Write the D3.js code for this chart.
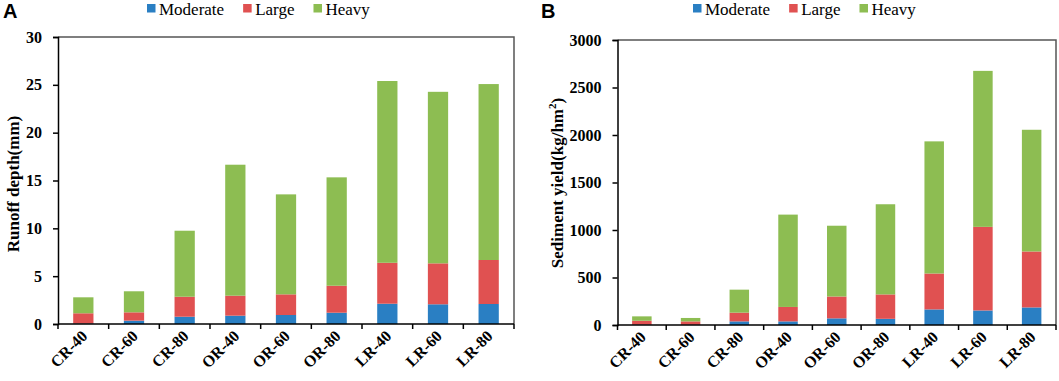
<!DOCTYPE html>
<html>
<head>
<meta charset="utf-8">
<script src="https://cdn.jsdelivr.net/npm/d3@7"></script>
<style>
  body { margin: 0; background: #fff; }
  svg { display: block; }
</style>
</head>
<body>
<div id="grafica"></div>
<script>
// --- DATOS ---
const categorias = ["CR-40", "CR-60", "CR-80", "OR-40", "OR-60", "OR-80", "LR-40", "LR-60", "LR-80"];
const series = ["Moderate", "Large", "Heavy"];

// Panel A: profundidad de escorrentía (mm), valor de cada segmento apilado
const runoffModerate = [0.05, 0.35, 0.76, 0.87, 0.94, 1.18, 2.12, 2.06, 2.09];
const runoffLarge    = [1.07, 0.87, 2.09, 2.09, 2.16, 2.82, 4.28, 4.28, 4.60];
const runoffHeavy    = [1.67, 2.20, 6.90, 13.69, 10.45, 11.33, 19.00, 17.93, 18.39];
const runoffTicks = [0, 5, 10, 15, 20, 25, 30];

// Panel B: producción de sedimentos (kg/hm2)
const sedimentModerate = [3, 2, 38, 38, 70, 65, 164, 153, 185];
const sedimentLarge    = [42, 36, 92, 152, 230, 257, 378, 880, 589];
const sedimentHeavy    = [46, 36, 242, 972, 745, 949, 1391, 1642, 1281];
const sedimentTicks = [0, 500, 1000, 1500, 2000, 2500, 3000];

const colores = ["#2a7fc3", "#e05151", "#8dbd52"];

const ancho = 1059, alto = 381;
const serif = "'Liberation Serif', 'Times New Roman', serif";

const svg = d3.select("#grafica").append("svg")
    .attr("width", ancho)
    .attr("height", alto);

// --- FUNCIÓN QUE DIBUJA UN PANEL ---
function dibujarPanel(cfg) {
    const g = svg.append("g");
    const { izq, der, arriba, abajo } = cfg.caja;

    const x = d3.scaleBand().domain(categorias).range([izq, der]).padding(0);
    const y = d3.scaleLinear().domain([0, cfg.maximo]).range([abajo, arriba]);

    // filas para d3.stack
    const filas = categorias.map((c, i) => ({
        cat: c,
        Moderate: cfg.valores[0][i],
        Large: cfg.valores[1][i],
        Heavy: cfg.valores[2][i]
    }));
    const apilado = d3.stack().keys(series)(filas);

    // marco superior y derecho
    g.append("path")
        .attr("d", `M${izq},${arriba}H${der}V${abajo}`)
        .attr("fill", "none")
        .attr("stroke", "#555")
        .attr("stroke-width", 1.5);

    // barras
    const anchoBarra = x.bandwidth() * 0.4;
    g.selectAll("g.serie")
        .data(apilado)
        .enter().append("g")
        .attr("fill", (d, i) => colores[i])
        .selectAll("rect")
        .data(d => d)
        .enter().append("rect")
        .attr("x", d => x(d.data.cat) + (x.bandwidth() - anchoBarra) / 2)
        .attr("width", anchoBarra)
        .attr("y", d => y(d[1]))
        .attr("height", d => Math.max(0, y(d[0]) - y(d[1])));

    // eje Y
    const ejeY = g.append("g")
        .attr("transform", `translate(${izq},0)`)
        .call(d3.axisLeft(y).tickValues(cfg.ticks).tickFormat(d3.format("d")).tickSize(5).tickPadding(11));
    ejeY.attr("font-family", null).attr("font-size", null);
    ejeY.select(".domain").attr("stroke", "#000").attr("stroke-width", 1.5);
    ejeY.selectAll(".tick line").attr("stroke", "#000").attr("stroke-width", 1.5);
    ejeY.selectAll("text")
        .style("font-family", serif)
        .style("font-weight", "bold")
        .style("font-size", "16px")
        .attr("fill", "#000");

    // eje X: marcas en los bordes de cada banda
    const bordes = categorias.map(c => x(c)).concat([der]);
    g.append("line")
        .attr("x1", izq).attr("x2", der)
        .attr("y1", abajo).attr("y2", abajo)
        .attr("stroke", "#000").attr("stroke-width", 1.5);
    g.selectAll("line.marca")
        .data(bordes)
        .enter().append("line")
        .attr("class", "marca")
        .attr("x1", d => d).attr("x2", d => d)
        .attr("y1", abajo).attr("y2", abajo + 5)
        .attr("stroke", "#000").attr("stroke-width", 1.5);

    g.selectAll("text.cat")
        .data(categorias)
        .enter().append("text")
        .attr("class", "cat")
        .attr("transform", d => `translate(${x(d) + x.bandwidth() / 2 + 5},${abajo + 13}) rotate(-45)`)
        .attr("text-anchor", "end")
        .style("font-family", serif)
        .style("font-weight", "bold")
        .style("font-size", "16px")
        .text(d => d);

    // título del eje Y
    const titulo = g.append("text")
        .attr("transform", `translate(${cfg.tituloX},${cfg.tituloY}) rotate(-90)`)
        .attr("dy", "0.35em")
        .attr("text-anchor", "middle")
        .style("font-family", serif)
        .style("font-weight", "bold")
        .style("font-size", "17px");
    titulo.append("tspan").text(cfg.titulo);
    if (cfg.superindice) {
        titulo.append("tspan").style("font-size", "11px").attr("dy", "-0.6em").text(cfg.superindice);
        titulo.append("tspan").attr("dy", "0.4em").text(")");
    }

    // letra del panel
    g.append("text")
        .attr("x", cfg.letraX).attr("y", 18)
        .style("font-family", "'Liberation Sans', Arial, sans-serif")
        .style("font-weight", "bold")
        .style("font-size", "20px")
        .text(cfg.letra);

    // leyenda
    let lx = cfg.leyendaX;
    series.forEach((s, i) => {
        g.append("rect")
            .attr("x", lx).attr("y", 4)
            .attr("width", 8.5).attr("height", 8.5)
            .attr("fill", colores[i]);
        const t = g.append("text")
            .attr("x", lx + 12).attr("y", 15)
            .style("font-family", serif)
            .style("font-size", "17px")
            .text(s);
        lx += 12 + t.node().getComputedTextLength() + 19;
    });
}

dibujarPanel({
    caja: { izq: 58, der: 514, arriba: 37, abajo: 324 },
    maximo: 30,
    ticks: runoffTicks,
    valores: [runoffModerate, runoffLarge, runoffHeavy],
    titulo: "Runoff depth(mm)",
    tituloX: 13, tituloY: 184,
    letra: "A", letraX: 3,
    leyendaX: 147
});

dibujarPanel({
    caja: { izq: 617.5, der: 1056, arriba: 40, abajo: 325 },
    maximo: 3000,
    ticks: sedimentTicks,
    valores: [sedimentModerate, sedimentLarge, sedimentHeavy],
    titulo: "Sediment yield(kg/hm",
    superindice: "2",
    tituloX: 557, tituloY: 183,
    letra: "B", letraX: 541,
    leyendaX: 693
});
</script>
</body>
</html>
